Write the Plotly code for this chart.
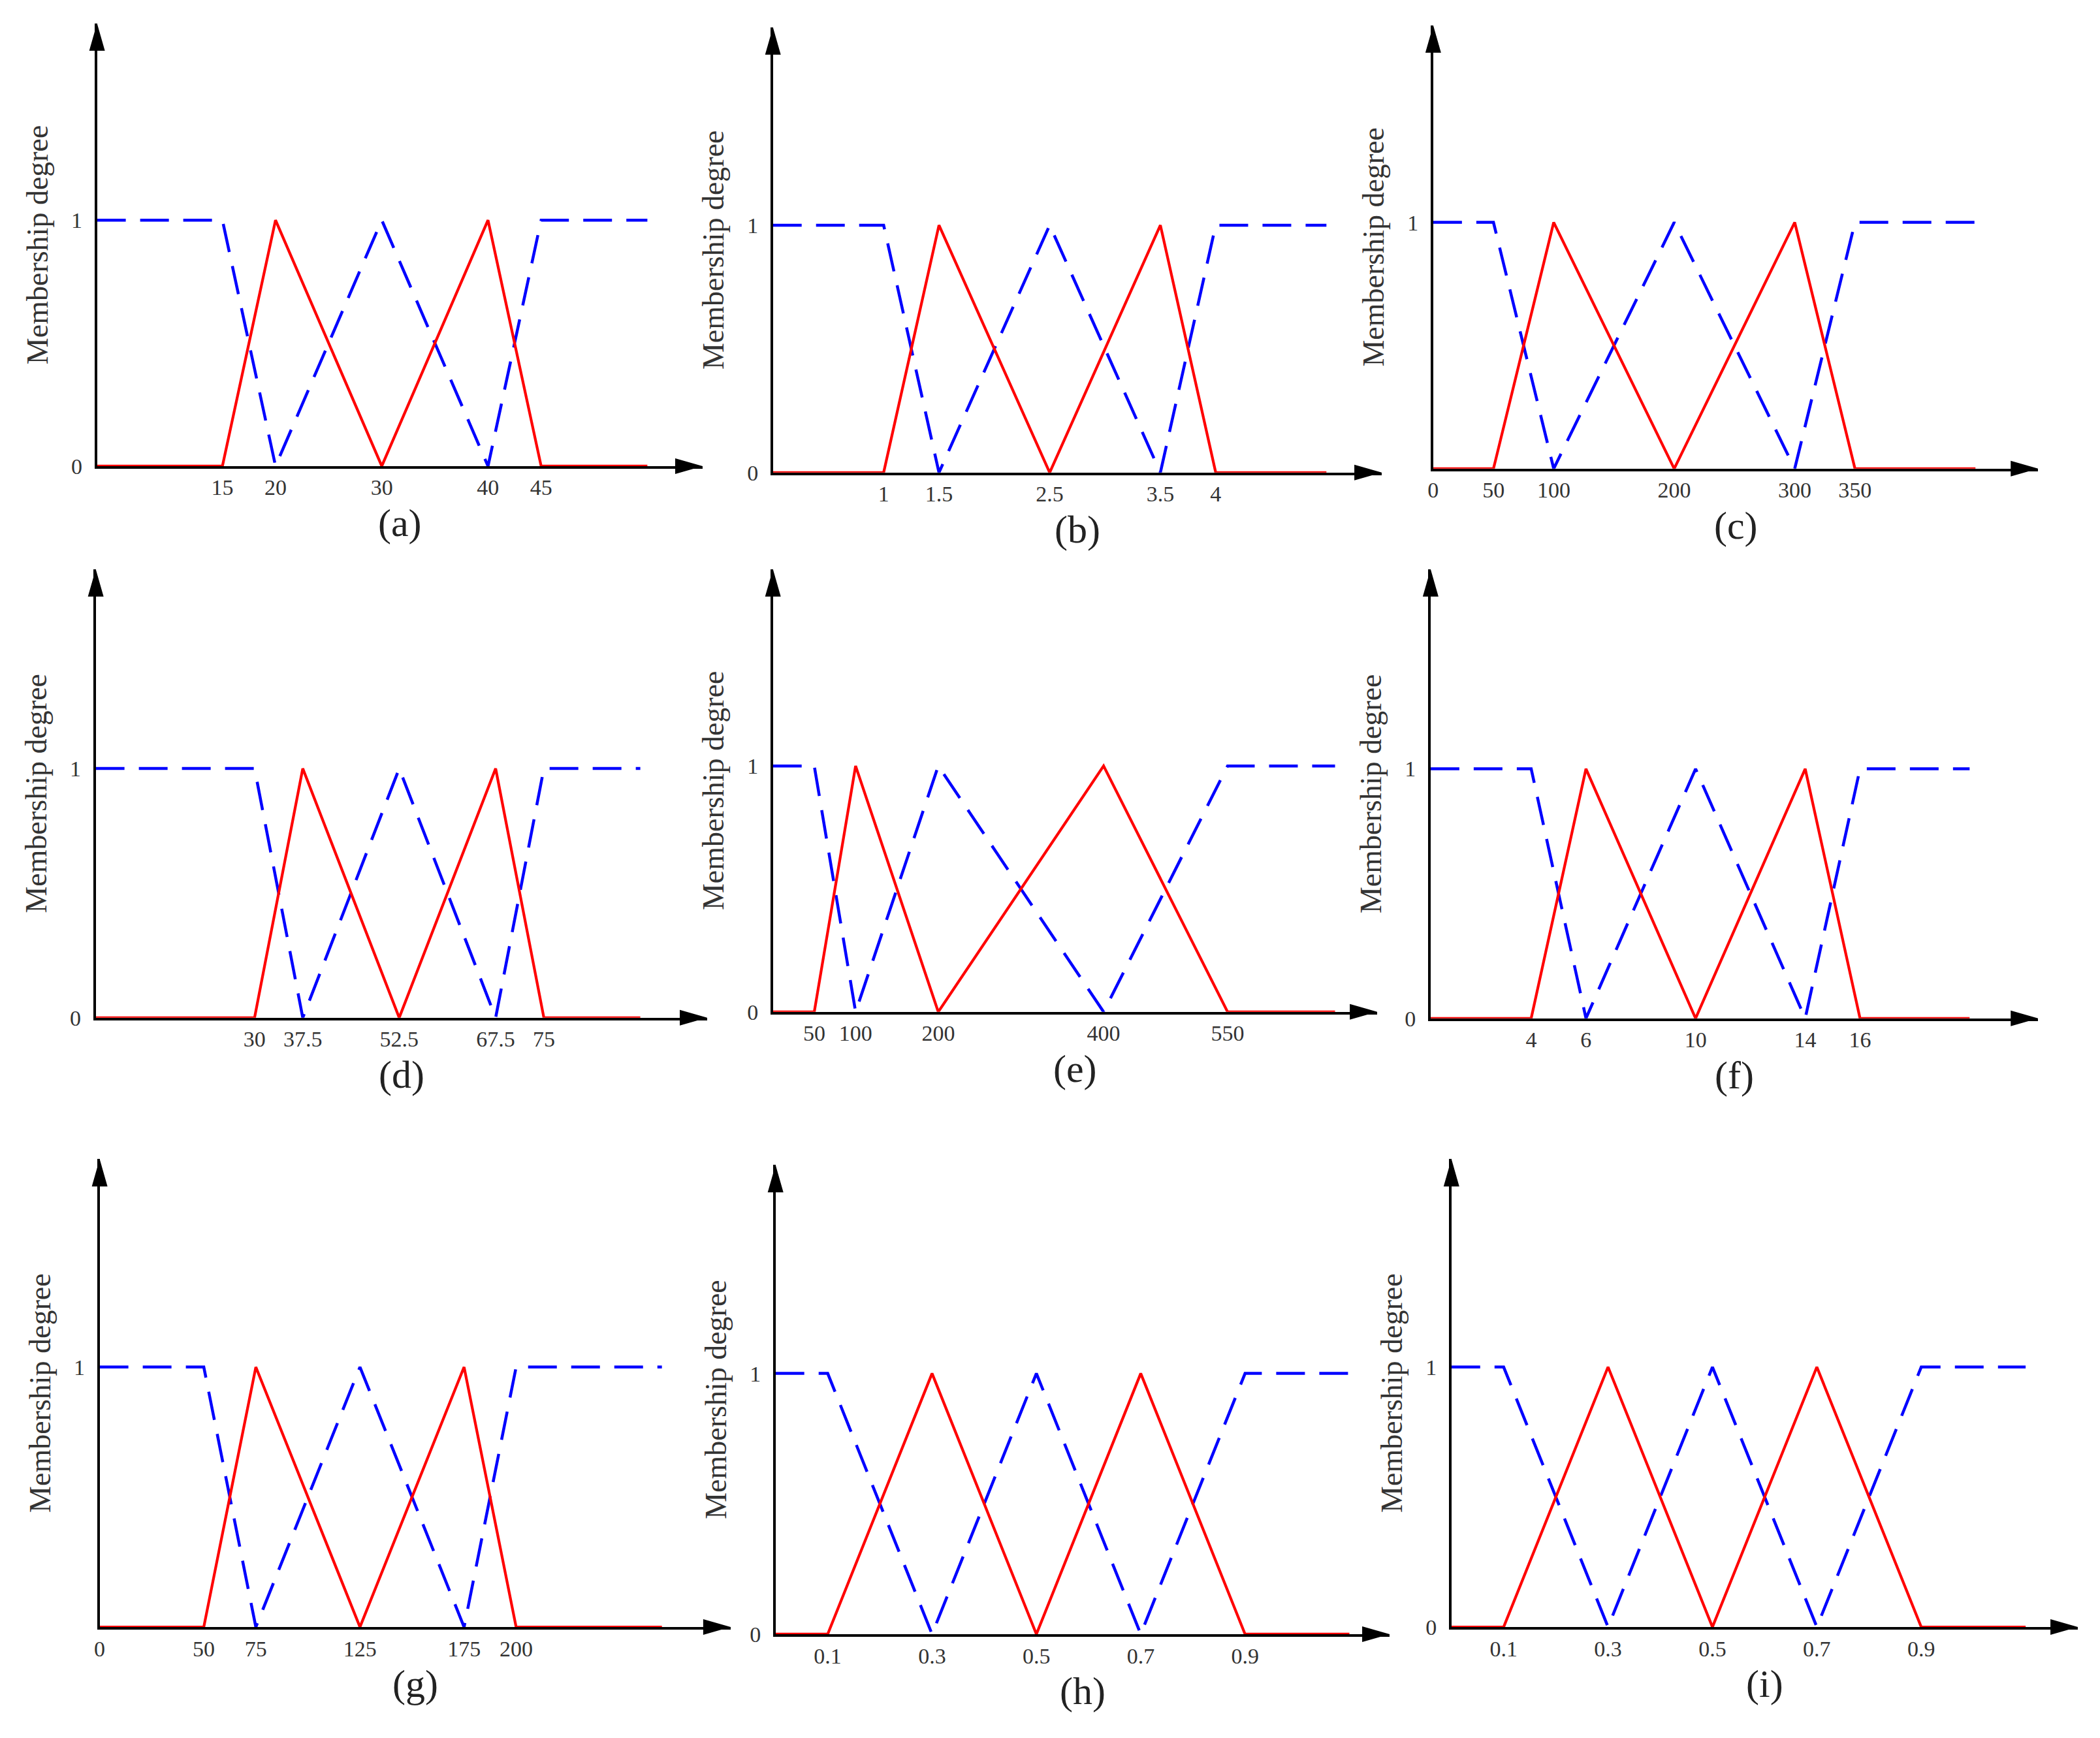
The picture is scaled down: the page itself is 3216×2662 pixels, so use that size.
import plotly.graph_objects as go

# ---- data ----
panel_labels = ["(a)", "(b)", "(c)", "(d)", "(e)", "(f)", "(g)", "(h)", "(i)"]

# breakpoints of the membership functions in each panel
breaks_a = [15, 20, 30, 40, 45]
breaks_b = [1, 1.5, 2.5, 3.5, 4]
breaks_c = [50, 100, 200, 300, 350]
breaks_d = [30, 37.5, 52.5, 67.5, 75]
breaks_e = [50, 100, 200, 400, 550]
breaks_f = [4, 6, 10, 14, 16]
breaks_g = [50, 75, 125, 175, 200]
breaks_h = [0.1, 0.3, 0.5, 0.7, 0.9]
breaks_i = [0.1, 0.3, 0.5, 0.7, 0.9]
all_breaks = [breaks_a, breaks_b, breaks_c, breaks_d, breaks_e,
              breaks_f, breaks_g, breaks_h, breaks_i]

# start / end of the drawn universe
x_start = [3.2, 0, 0, 5.3, 0, 0.33, 0, 0, 0]
x_end = [55, 5, 450, 90, 680, 20, 270, 1.1, 1.1]

# x tick labels
ticks_a = ["15", "20", "30", "40", "45"]
ticks_b = ["1", "1.5", "2.5", "3.5", "4"]
ticks_c = ["0", "50", "100", "200", "300", "350"]
ticks_d = ["30", "37.5", "52.5", "67.5", "75"]
ticks_e = ["50", "100", "200", "400", "550"]
ticks_f = ["4", "6", "10", "14", "16"]
ticks_g = ["0", "50", "75", "125", "175", "200"]
ticks_h = ["0.1", "0.3", "0.5", "0.7", "0.9"]
ticks_i = ["0.1", "0.3", "0.5", "0.7", "0.9"]
all_ticks = [ticks_a, ticks_b, ticks_c, ticks_d, ticks_e,
             ticks_f, ticks_g, ticks_h, ticks_i]

# membership degree at start, 5 breakpoints, end
blue_degrees = [1, 1, 0, 1, 0, 1, 1]
red_degrees = [0, 0, 1, 0, 1, 0, 0]

# ---- layout helpers ----
PAGE_W, PAGE_H = 3216, 2662
OFF = 8  # default body margin of the html page
W, H = PAGE_W - 2 * OFF, PAGE_H - 2 * OFF
FONT = "Liberation Serif"

# pixel boxes on the page: y-axis x, arrow tip x, arrow tip y, x-axis y
boxes = [
    (140, 1070, 36, 719),
    (1178, 2113, 42, 729),
    (2192, 3121, 39, 723),
    (138, 1077, 878, 1570),
    (1178, 2106, 878, 1561),
    (2188, 3121, 878, 1571),
    (144, 1113, 1788, 2510),
    (1182, 2125, 1797, 2521),
    (2220, 3182, 1788, 2510),
]
x_ranges = [(3.2, 60.2), (0, 5.5), (0, 502), (5.3, 100.4), (0, 731),
            (0.33, 22.5), (0, 303), (0, 1.177), (0, 1.2)]

fig = go.Figure()
shapes = []
annotations = []
layout_axes = {}

for i in range(9):
    k = "" if i == 0 else str(i + 1)
    left, right, top, bottom = [v - OFF for v in boxes[i]]
    xs = [x_start[i]] + all_breaks[i] + [x_end[i]]

    fig.add_trace(go.Scatter(
        x=xs, y=blue_degrees, mode="lines",
        line=dict(color="#0000ff", width=4.5, dash="44px,22px"),
        xaxis="x" + k, yaxis="y" + k, showlegend=False
    ))
    fig.add_trace(go.Scatter(
        x=xs, y=red_degrees, mode="lines",
        line=dict(color="#ff0000", width=4.2),
        xaxis="x" + k, yaxis="y" + k, showlegend=False
    ))

    tick_vals = [float(t) for t in all_ticks[i]]
    layout_axes["xaxis" + k] = dict(
        domain=[left / W, right / W], range=list(x_ranges[i]),
        anchor="y" + k, showline=True, linecolor="black", linewidth=3.5,
        showgrid=False, zeroline=False, ticks="",
        tickvals=tick_vals, ticktext=all_ticks[i],
        tickfont=dict(family=FONT, size=34, color="#333333"),
    )
    y_ticks = [1] if all_ticks[i][0] == "0" else [0, 1]
    layout_axes["yaxis" + k] = dict(
        domain=[1 - bottom / H, 1 - top / H], range=[0, 1.8],
        anchor="x" + k, showline=True, linecolor="black", linewidth=3.5,
        showgrid=False, zeroline=False, ticks="", ticklabelstandoff=12,
        tickvals=y_ticks, ticktext=[str(v) for v in y_ticks],
        tickfont=dict(family=FONT, size=34, color="#333333"),
        title=dict(text="Membership degree", standoff=22,
                   font=dict(family=FONT, size=46, color="#333333")),
    )

    # arrow heads on the axes
    shapes.append(dict(
        type="path", xref="x" + k + " domain", yref="y" + k + " domain",
        xsizemode="pixel", ysizemode="pixel", xanchor=1, yanchor=0,
        path="M0,0 L-42,12 L-42,-12 Z", fillcolor="black", line_width=0
    ))
    shapes.append(dict(
        type="path", xref="x" + k + " domain", yref="y" + k + " domain",
        xsizemode="pixel", ysizemode="pixel", xanchor=0, yanchor=1,
        path="M0,0 L-12,-42 L12,-42 Z", fillcolor="black", line_width=0
    ))

    annotations.append(dict(
        text=panel_labels[i], xref="x" + k + " domain", yref="y" + k + " domain",
        x=0.5, y=0, yshift=-87, showarrow=False, yanchor="middle",
        font=dict(family=FONT, size=60, color="#222222")
    ))

fig.update_layout(
    width=W, height=H, margin=dict(l=0, r=0, t=0, b=0),
    paper_bgcolor="white", plot_bgcolor="white",
    showlegend=False, shapes=shapes, annotations=annotations,
    **layout_axes
)

fig.write_html("out.html")
